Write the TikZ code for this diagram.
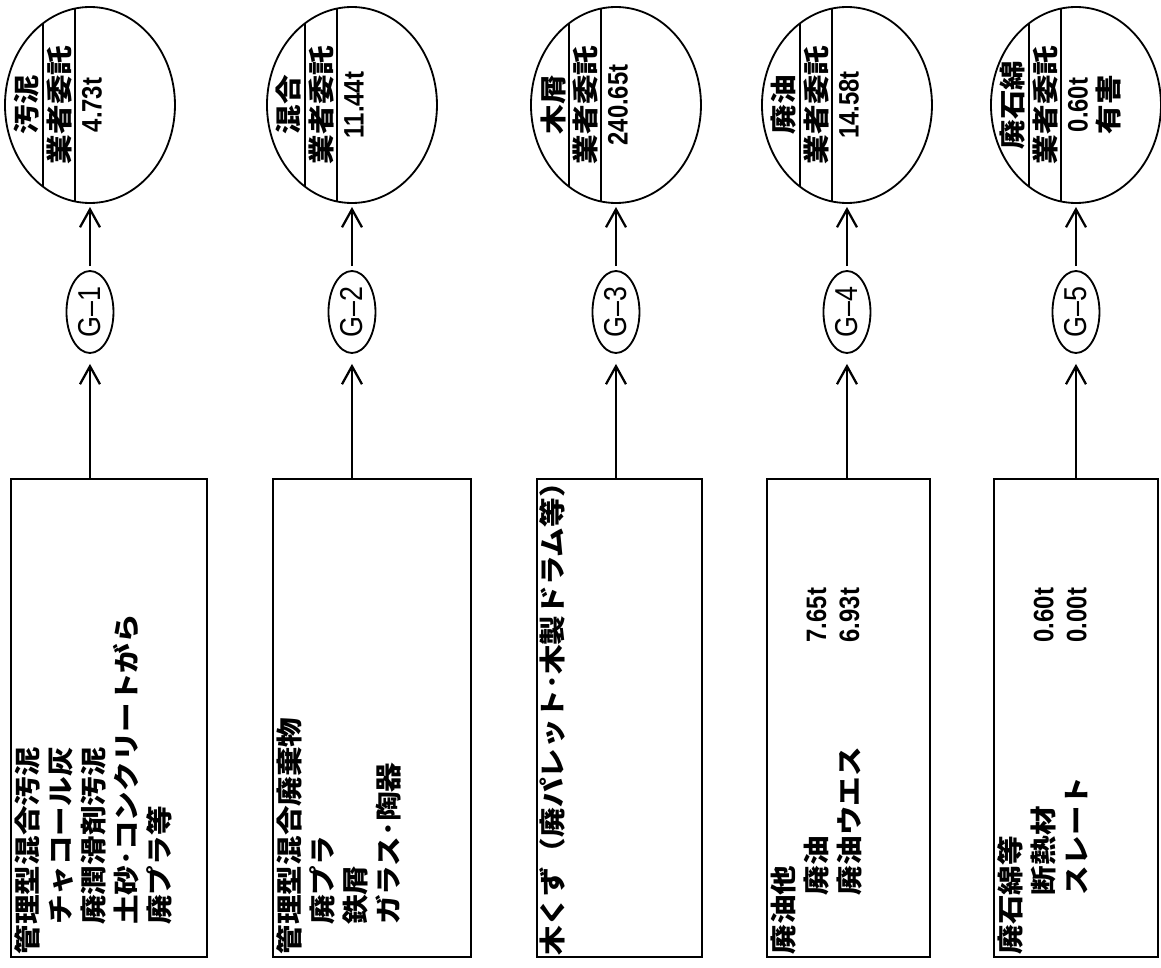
\documentclass[tikz,border=0pt]{standalone}
\usepackage{fontspec}
\usetikzlibrary{shapes.geometric,arrows.meta,calc}
\newfontfamily\jfont[FakeStretch=1.12]{Noto Sans CJK JP}
\newfontfamily\numfont[FakeStretch=0.85]{Liberation Sans}
\newcommand\wt[1]{{\numfont\fontsize{20}{23.5}\selectfont #1}}

\begin{document}
\begin{tikzpicture}[rotate=90, transform shape,
	waste/.style = {draw, line width=1.8pt, minimum width=11.95cm, minimum height=#1, inner sep=0pt, outer sep=0pt},
	items/.style = {anchor=north west, align=left, inner sep=0pt, font=\jfont\bfseries\fontsize{18.8}{23.5}\selectfont},
	gate/.style = {ellipse, draw, line width=1.3pt, minimum width=2.05cm, minimum height=1.175cm, inner sep=0pt, font=\numfont\fontsize{22.5}{24}\selectfont},
	disp/.style = {ellipse, draw, line width=1.3pt, minimum width=4.9cm, minimum height=4.25cm, outer sep=0pt},
	ctext/.style = {inner sep=0pt, font=\jfont\bfseries\fontsize{18.8}{23.5}\selectfont},
	flow/.style = {line width=1.6pt, -{Straight Barb[length=4.5mm, width=5mm]}},
	chord/.style = {line width=1.3pt},]
		\useasboundingbox (0,0) rectangle (24.175,29.025);

		\node[waste=4.9cm] (B1) at (6.225,26.3) {};
		\node[waste=4.95cm] (B2) at (6.225,19.725) {};
		\node[waste=4.125cm] (B3) at (6.225,13.5375) {};
		\node[waste=4.075cm] (B4) at (6.225,7.8125) {};
		\node[waste=4.1cm] (B5) at (6.225,2.125) {};

		\node[items] (T1) at ($(B1.north west)+(0.06,-0.08)$) {管理型混合汚泥\\　チャコール灰\\　廃潤滑剤汚泥\\　土砂･コンクリートがら\\　廃プラ等};
		\node[items] (T2) at ($(B2.north west)+(0.06,-0.08)$) {管理型混合廃棄物\\　廃プラ\\　鉄屑\\　ガラス･陶器};
		\node[items] (T3) at ($(B3.north west)+(0.02,-0.06)$) {木くず（廃パレット･木製ドラム等）};
		\node[items] (T4) at ($(B4.north west)+(0.06,-0.08)$) {廃油他\\\makebox[7.8cm][l]{　　廃油}\wt{7.65t}\\\makebox[7.8cm][l]{　　廃油ウエス}\wt{6.93t}};
		\node[items] (T5) at ($(B5.north west)+(0.06,-0.08)$) {廃石綿等\\\makebox[7.8cm][l]{　　断熱材}\wt{0.60t}\\\makebox[7.8cm][l]{　　スレート}\wt{0.00t}};

		\node[gate] (G1) at (16.375,26.775) {G–1};
		\node[gate] (G2) at (16.375,20.225) {G–2};
		\node[gate] (G3) at (16.375,13.625) {G–3};
		\node[gate] (G4) at (16.375,7.85) {G–4};
		\node[gate] (G5) at (16.375,2.125) {G–5};

		\node[disp] (C1) at (21.55,26.775) {};
		\node[disp] (C2) at (21.55,20.225) {};
		\node[disp] (C3) at (21.55,13.625) {};
		\node[disp] (C4) at (21.55,7.85) {};
		\node[disp] (C5) at (21.55,2.125) {};

		\draw[chord] (C1.150) -- (C1.30);
		\draw[chord] (C1.171) -- (C1.9);
		\draw[chord] (C2.150) -- (C2.30);
		\draw[chord] (C2.171) -- (C2.9);
		\draw[chord] (C3.150) -- (C3.30);
		\draw[chord] (C3.171) -- (C3.9);
		\draw[chord] (C4.150) -- (C4.30);
		\draw[chord] (C4.171) -- (C4.9);
		\draw[chord] (C5.150) -- (C5.30);
		\draw[chord] (C5.171) -- (C5.9);

		\node[ctext] (C1a) at ($(C1.north)+(0,-0.55)$) {汚泥};
		\node[ctext] (C1b) at ($(C1.north)+(0,-1.35)$) {業者委託};
		\node[ctext] (C1c) at ($(C1.north)+(0,-2.175)$) {\wt{4.73t}};
		\node[ctext] (C2a) at ($(C2.north)+(0,-0.55)$) {混合};
		\node[ctext] (C2b) at ($(C2.north)+(0,-1.35)$) {業者委託};
		\node[ctext] (C2c) at ($(C2.north)+(0,-2.175)$) {\wt{11.44t}};
		\node[ctext] (C3a) at ($(C3.north)+(0,-0.55)$) {木屑};
		\node[ctext] (C3b) at ($(C3.north)+(0,-1.35)$) {業者委託};
		\node[ctext] (C3c) at ($(C3.north)+(0,-2.175)$) {\wt{240.65t}};
		\node[ctext] (C4a) at ($(C4.north)+(0,-0.55)$) {廃油};
		\node[ctext] (C4b) at ($(C4.north)+(0,-1.35)$) {業者委託};
		\node[ctext] (C4c) at ($(C4.north)+(0,-2.175)$) {\wt{14.58t}};
		\node[ctext] (C5a) at ($(C5.north)+(0,-0.55)$) {廃石綿};
		\node[ctext] (C5b) at ($(C5.north)+(0,-1.35)$) {業者委託};
		\node[ctext] (C5c) at ($(C5.north)+(0,-2.175)$) {\wt{0.60t}};
		\node[ctext] (C5d) at ($(C5.north)+(0,-2.925)$) {有害};

		\draw[flow, shorten >=0.25cm] (B1.east |- G1) -- (G1);
		\draw[flow, shorten >=0.25cm] (B2.east |- G2) -- (G2);
		\draw[flow, shorten >=0.25cm] (B3.east |- G3) -- (G3);
		\draw[flow, shorten >=0.25cm] (B4.east |- G4) -- (G4);
		\draw[flow, shorten >=0.25cm] (B5.east |- G5) -- (G5);
		\draw[flow, shorten <=0.1cm, shorten >=0.1cm] (G1) -- (C1);
		\draw[flow, shorten <=0.1cm, shorten >=0.1cm] (G2) -- (C2);
		\draw[flow, shorten <=0.1cm, shorten >=0.1cm] (G3) -- (C3);
		\draw[flow, shorten <=0.1cm, shorten >=0.1cm] (G4) -- (C4);
		\draw[flow, shorten <=0.1cm, shorten >=0.1cm] (G5) -- (C5);
	\end{tikzpicture}
\end{document}
